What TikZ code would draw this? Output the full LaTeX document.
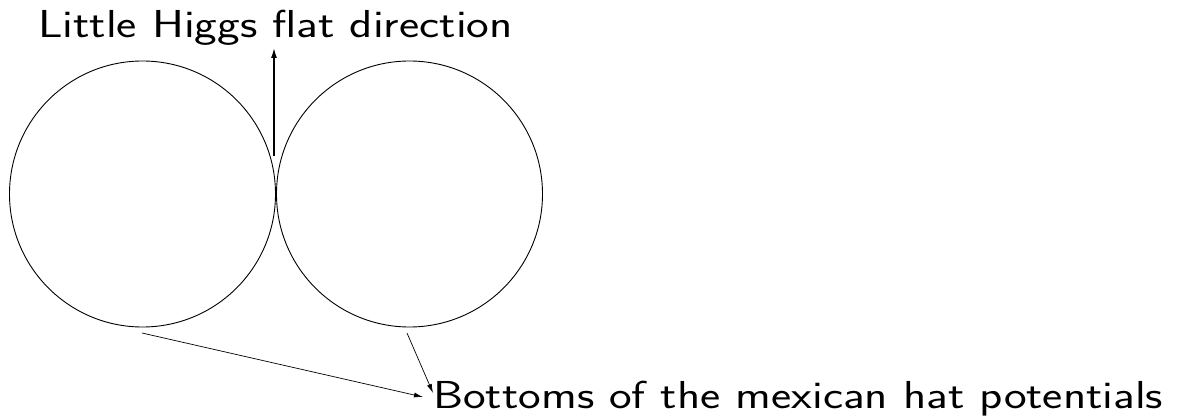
\documentclass[tikz,border=0pt]{standalone}
\usetikzlibrary{arrows.meta}
\begin{document}
\begin{tikzpicture}[x=1pt,y=-1pt,
  ring/.style={draw,circle,minimum size=266pt,inner sep=0pt,line width=0.9pt},
  lbl/.style={font=\sffamily\fontsize{39}{46}\selectfont,inner sep=0pt,anchor=base west},
  thinarrow/.style={-{Latex[length=9pt,width=5pt]},line width=0.7pt},
  thickarrow/.style={-{Latex[length=10pt,width=6pt]},line width=1.4pt}]
\useasboundingbox (0,0) rectangle (1188,417);
\node[ring] (L) at (142.5,194) {};
\node[ring] (R) at (409.5,194) {};
\node[lbl] (top) at (38,38) {\scalebox{1.235}[1]{Little Higgs flat direction}};
\node[lbl] (bot) at (433,408) {\scalebox{1.233}[1]{Bottoms of the mexican hat potentials}};
\coordinate (upS) at (274,156);
\coordinate (upE) at (274,48);
\coordinate (lS) at (142,333);
\coordinate (lE) at (423,397);
\coordinate (rS) at (407,333);
\coordinate (rE) at (433,393);
\draw[thickarrow] (upS) -- (upE);
\draw[thinarrow] (lS) -- (lE);
\draw[thinarrow] (rS) -- (rE);
\end{tikzpicture}
\end{document}
